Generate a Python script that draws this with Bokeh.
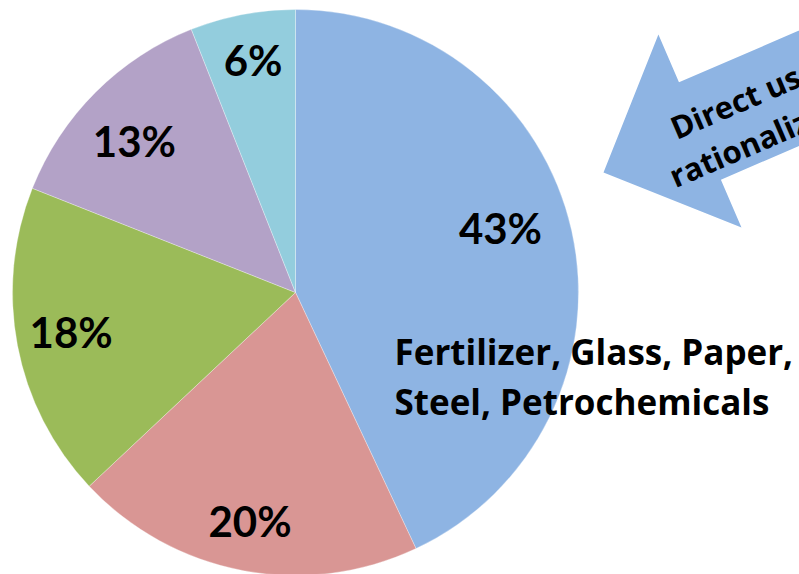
import numpy as np
from bokeh.plotting import figure
from bokeh.models import ColumnDataSource, Range1d
from bokeh.core.properties import value
from bokeh.embed import file_html
from bokeh.resources import INLINE

# ---- data ----
shares = [43, 20, 18, 13, 6]
labels = ["43%", "20%", "18%", "13%", "6%"]
colors = ["#8EB4E3", "#D99694", "#9BBB59", "#B3A2C7", "#93CDDD"]
note_lines = ["Fertilizer, Glass, Paper,", "Steel, Petrochemicals"]
arrow_lines = ["Direct use", "rationalization"]

# ---- layout ----
W, H = 799, 574
cx, cy, R = 295, H - 292, 283
# per-label pixel nudges (screen x right, screen y down)
nudge_x = [-16, -3, -2, -1, 0]
nudge_y = [-15, 6, -3, 9, -10]

frac = np.array(shares, dtype=float) / sum(shares)
cum = np.concatenate([[0.0], np.cumsum(frac)])
start = np.pi / 2 - 2 * np.pi * cum[:-1]
end = np.pi / 2 - 2 * np.pi * cum[1:]
mid = (start + end) / 2
lr = 0.8 * R

src = ColumnDataSource(dict(
    start=start, end=end, color=colors, label=labels,
    lx=cx + lr * np.cos(mid) + np.array(nudge_x),
    ly=cy + lr * np.sin(mid) - np.array(nudge_y),
))

p = figure(width=W, height=H, x_range=Range1d(0, W), y_range=Range1d(0, H),
           output_backend="svg", toolbar_location=None, min_border=0)
p.axis.visible = False
p.grid.visible = False
p.outline_line_color = None
p.background_fill_color = "white"

p.wedge(x=cx, y=cy, radius=R, start_angle="start", end_angle="end",
        direction="clock", fill_color="color", line_color="white",
        line_width=0.6, line_alpha=0.5, source=src)

p.text(x="lx", y="ly", text="label", source=src, text_align="center",
       text_baseline="middle", text_font=value("Lato"), text_font_style="bold",
       text_font_size="42px", text_color="black")

# note text
p.text(x=[394, 394], y=[H - 351, H - 401], text=note_lines, text_align="left",
       text_baseline="alphabetic", text_font=value("Open Sans"), text_font_style="bold",
       text_font_size="35px", text_color="black")

# arrow (pointing down-left), built in screen pixels then flipped
tip = np.array([603.0, 172.0])
ang = np.deg2rad(23.3)
b = np.array([np.cos(ang), -np.sin(ang)])   # back along the shaft (screen)
n = np.array([np.sin(ang), np.cos(ang)])    # normal (screen, down-right)
head_len, head_hw, shaft_hw, shaft_len = 105, 105, 53, 400
pts = [tip,
       tip + head_len * b - head_hw * n,
       tip + head_len * b - shaft_hw * n,
       tip + (head_len + shaft_len) * b - shaft_hw * n,
       tip + (head_len + shaft_len) * b + shaft_hw * n,
       tip + head_len * b + shaft_hw * n,
       tip + head_len * b + head_hw * n]
ax = [pt[0] for pt in pts]
ay = [H - pt[1] for pt in pts]
p.patch(ax, ay, fill_color="#8EB4E3", line_color=None)

t1 = tip + 80 * b - 12.8 * n
t2 = tip + 60 * b + 31 * n
p.text(x=[t1[0], t2[0]], y=[H - t1[1], H - t2[1]], text=arrow_lines, angle=ang,
       text_align="left", text_baseline="alphabetic", text_font=value("Open Sans"),
       text_font_style="bold", text_font_size="31px", text_color="black")

open("out.html", "w").write(file_html(p, INLINE))
